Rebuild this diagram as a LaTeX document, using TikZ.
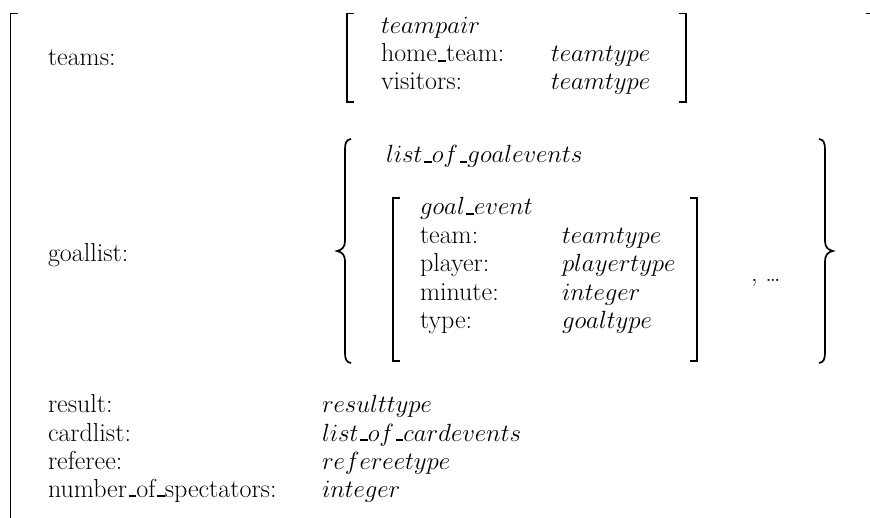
\documentclass[tikz,border=0pt]{standalone}
\newcommand{\us}{\leavevmode\kern.06em\vbox{\hrule width.3em height .06em}}
\begin{document}
\begin{tikzpicture}[x=1pt,y=-1pt,
  every node/.style={inner sep=0pt,outer sep=0pt,anchor=base west,font=\fontsize{26}{27.5}\selectfont},
  brk/.style={line width=1.5pt},
  brc/.style={line width=1.7pt}]
\useasboundingbox (0,0) rectangle (870,518);
\clip (0,0) rectangle (870,518);
% outer brackets
\draw[brk] (18,13.5) -| (10.5,530);
\draw[brk] (866,13.5) -| (872,530);
% teams
\node (teams) at (48,66) {teams:};
\draw[brk] (354,13.5) -| (347,102) -- (354,102);
\draw[brk] (679,13.5) -| (686,102) -- (679,102);
\node (tp) at (381,34) {$teampair$};
\node (ht) at (381,62) {home\us team:};
\node (htv) at (551,62) {$teamtype$};
\node (vi) at (381,90) {visitors:};
\node (viv) at (551,90) {$teamtype$};
% goallist
\node (gl) at (48,262) {goallist:};
\draw[brc] (351,139) .. controls (346.5,139.5) and (345,143) .. (345,149) -- (345,241)
  .. controls (345,247) and (342,250) .. (337,251)
  .. controls (342,252) and (345,255) .. (345,261) -- (345,353)
  .. controls (345,359) and (346.5,362.5) .. (351,363);
\draw[brc] (819,139) .. controls (823.5,139.5) and (825,143) .. (825,149) -- (825,241)
  .. controls (825,247) and (828,250) .. (833,251)
  .. controls (828,252) and (825,255) .. (825,261) -- (825,353)
  .. controls (825,359) and (823.5,362.5) .. (819,363);
\node (lg) at (386,163) {$list\mbox{\us}of\mbox{\us}goalevents$};
\draw[brk] (400,198) -| (393,361) -- (400,361);
\draw[brk] (690,198) -| (697,361) -- (690,361);
\node (ge) at (420,215) {$goal\mbox{\us}event$};
\node (tm) at (420,243.5) {team:};
\node (tmv) at (562,243.5) {$teamtype$};
\node (pl) at (420,272) {player:};
\node (plv) at (562,272) {$playertype$};
\node (mi) at (420,300.5) {minute:};
\node (miv) at (562,300.5) {$integer$};
\node (ty) at (420,329) {type:};
\node (tyv) at (562,329) {$goaltype$};
\node (dots) at (751,282) {, \ldots};
% bottom rows
\node (re) at (48,413) {result:};
\node (rev) at (322,413) {$resulttype$};
\node (cl) at (48,441) {cardlist:};
\node (clv) at (322,441) {$list\mbox{\us}of\mbox{\us}cardevents$};
\node (rf) at (48,469) {referee:};
\node (rfv) at (322,469) {$refereetype$};
\node (ns) at (48,497) {number\us of\us spectators:};
\node (nsv) at (322,497) {$integer$};
\end{tikzpicture}
\end{document}
